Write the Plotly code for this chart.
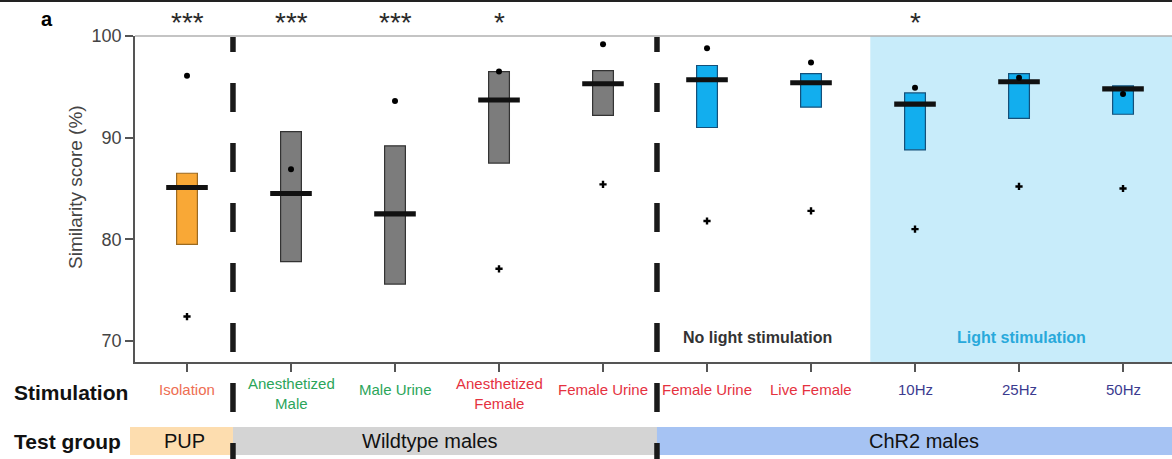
import plotly.graph_objects as go

# ---------------- data ----------------
categories = ["Isolation", "Anesthetized<br>Male", "Male Urine", "Anesthetized<br>Female",
              "Female Urine", "Female Urine", "Live Female", "10Hz", "25Hz", "50Hz"]
label_colors = ["#EE6E52", "#2BA55A", "#2BA55A", "#E5323F", "#E5323F",
                "#E5323F", "#E5323F", "#3B3B8F", "#3B3B8F", "#3B3B8F"]
q1 = [79.5, 77.8, 75.6, 87.5, 92.2, 91.0, 93.0, 88.8, 91.9, 92.3]
q3 = [86.5, 90.6, 89.2, 96.5, 96.6, 97.1, 96.3, 94.4, 96.3, 95.1]
median = [85.1, 84.5, 82.5, 93.7, 95.3, 95.7, 95.4, 93.3, 95.5, 94.8]
dot_vals = [96.1, 86.9, 93.6, 96.5, 99.2, 98.8, 97.4, 94.9, 95.9, 94.3]
plus_idx = [0, 3, 4, 5, 6, 7, 8, 9]
plus_vals = [72.4, 77.1, 85.4, 81.8, 82.8, 81.0, 85.2, 85.0]
group_of_bar = ["pup", "wt", "wt", "wt", "wt", "chr2", "chr2", "chr2", "chr2", "chr2"]
significance = ["***", "***", "***", "*", "", "", "", "*", "", ""]
y_ticks = [70, 80, 90, 100]
test_groups = ["PUP", "Wildtype males", "ChR2 males"]

# ---------------- style / layout ----------------
W, H = 1172, 459
L, R, T, B = 135, 0, 36, 97
PW, PH = W - L - R, H - T - B
XMIN, XMAX = -0.5, 9.471
YMIN, YMAX = 67.93, 100.0
FONT = "Liberation Sans, Arial, sans-serif"

fill = {"pup": "#F9A836", "wt": "#7C7C7C", "chr2": "#12AEEE"}
edge = {"pup": "#9C6A20", "wt": "#333333", "chr2": "#14507A"}


def px_x(px):
    return (px - L) / PW


def px_y(py):
    return (H - B - py) / PH


def data_x(x):
    return (x - XMIN) / (XMAX - XMIN)


xs = list(range(len(categories)))

fig = go.Figure()

# IQR boxes
fig.add_trace(go.Bar(
    x=xs, y=[b - a for a, b in zip(q1, q3)], base=q1, width=0.2,
    marker=dict(color=[fill[g] for g in group_of_bar],
                line=dict(color=[edge[g] for g in group_of_bar], width=1.2)),
    hoverinfo="skip", showlegend=False))

# median bars
fig.add_trace(go.Bar(
    x=xs, y=[0.5] * len(xs), base=[m - 0.25 for m in median], width=0.4,
    marker=dict(color="#111111", line=dict(width=0)),
    hoverinfo="skip", showlegend=False))

# dots
fig.add_trace(go.Scatter(
    x=xs, y=dot_vals, mode="markers",
    marker=dict(symbol="circle", size=6, color="#000000"),
    hoverinfo="skip", showlegend=False))

# plus markers
fig.add_trace(go.Scatter(
    x=plus_idx, y=plus_vals, mode="markers",
    marker=dict(symbol="cross", size=6, color="#000000", line=dict(width=0)),
    hoverinfo="skip", showlegend=False))

shapes = []
# light stimulation shading
shapes.append(dict(type="rect", xref="x", yref="paper", x0=6.57, x1=XMAX, y0=0, y1=1,
                   fillcolor="#C8ECFA", line=dict(width=0), layer="below"))
# top border of plot
shapes.append(dict(type="line", xref="paper", yref="paper", x0=0, x1=1, y0=1, y1=1,
                   line=dict(color="#B0B0B0", width=1.5)))
# very top black line
shapes.append(dict(type="rect", xref="paper", yref="paper", x0=px_x(0), x1=px_x(W),
                   y0=px_y(2), y1=px_y(0), fillcolor="#222222", line=dict(width=0),
                   layer="above"))

# test group bars
div1, div2 = 0.442, 4.519
tg_y0, tg_y1 = px_y(455), px_y(427)
tg_bounds = [(px_x(130), data_x(div1), "#FDDDAF"),
             (data_x(div1), data_x(div2), "#D4D4D4"),
             (data_x(div2), px_x(W), "#A6C3F3")]
for x0, x1, c in tg_bounds:
    shapes.append(dict(type="rect", xref="paper", yref="paper", x0=x0, x1=x1,
                       y0=tg_y0, y1=tg_y1, fillcolor=c, line=dict(width=0), layer="above"))

# dashed dividers built as segment paths
for d in (div1, div2):
    xp = data_x(d)
    segs = []
    start = 23
    while start < H:
        a, b = max(start, 37), min(start + 29, H)
        if b > a:
            segs.append(f"M{xp},{px_y(a)} L{xp},{px_y(b)}")
        start += 60
    shapes.append(dict(type="path", xref="paper", yref="paper", path=" ".join(segs),
                       line=dict(color="#1A1A1A", width=5.5), layer="above"))

annotations = []
# category labels
for i, (c, col) in enumerate(zip(categories, label_colors)):
    two = "<br>" in c
    annotations.append(dict(x=i, xref="x", y=px_y(393.5 if two else 389), yref="paper",
                            text=c, showarrow=False, yanchor="middle", xanchor="center",
                            font=dict(family=FONT, size=15, color=col)))
# significance stars
for i, s in enumerate(significance):
    if s:
        annotations.append(dict(x=i, xref="x", y=px_y(22), yref="paper", text=s,
                                showarrow=False, yanchor="middle", xanchor="center",
                                font=dict(family=FONT, size=28, color="#2A2A2A")))


def note(text, cx, cy, size, color, angle=0, xanchor="center"):
    annotations.append(dict(x=px_x(cx), xref="paper", y=px_y(cy), yref="paper", text=text,
                            showarrow=False, xanchor=xanchor, yanchor="middle",
                            textangle=angle, font=dict(family=FONT, size=size, color=color)))


note("<b>a</b>", 47, 19, 20, "#000")
note("Similarity score (%)", 75, 187, 19, "#444444", angle=-90)
note("<b>Stimulation</b>", 12, 392, 21, "#111", xanchor="left")
note("<b>Test group</b>", 12, 441, 21, "#111", xanchor="left")
for name, cx in zip(test_groups, [184, 430, 924]):
    note(name, cx, 441, 20, "#111")
note("<b>No light stimulation</b>", 757, 337, 16, "#333333")
note("<b>Light stimulation</b>", 1021, 337, 16, "#29A9DB")

fig.update_layout(
    width=W, height=H, margin=dict(l=L, r=R, t=T, b=B, pad=0),
    paper_bgcolor="white", plot_bgcolor="white", barmode="overlay",
    showlegend=False, shapes=shapes, annotations=annotations,
    xaxis=dict(range=[XMIN, XMAX], tickvals=xs, showticklabels=False, ticks="outside",
               ticklen=8, tickcolor="#555", tickwidth=1.5, showline=True, linecolor="#555",
               linewidth=1.5, showgrid=False, zeroline=False, fixedrange=True),
    yaxis=dict(range=[YMIN, YMAX], tickvals=y_ticks, ticks="outside", ticklen=8,
               tickcolor="#555", tickwidth=1.5, showline=True, linecolor="#555", linewidth=1.5,
               showgrid=False, zeroline=False, tickfont=dict(family=FONT, size=18, color="#444"),
               fixedrange=True),
)

fig.write_html("out.html", config={"displayModeBar": False},
               post_script="document.body.style.margin='0';document.body.style.overflow='hidden';")
